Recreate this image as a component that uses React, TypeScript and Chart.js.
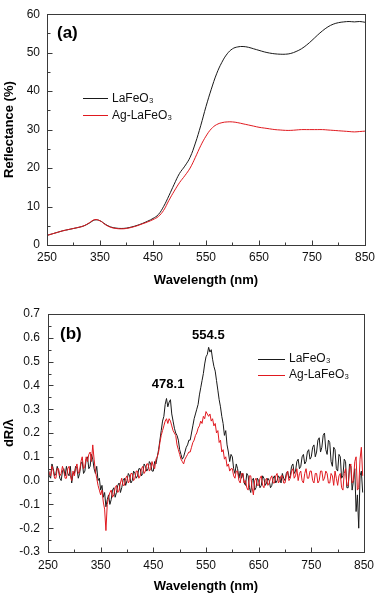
import React, { useEffect, useRef } from "react";
import { Chart, registerables } from "chart.js";

Chart.register(...registerables);

// ---------- data ----------
const seriesNames = ["LaFeO₃", "Ag-LaFeO₃"];

const wavelengthA = [
  250, 260, 270, 280, 290, 300, 310, 320, 330, 340, 350, 360, 370, 380, 390, 400, 410, 420, 430, 440,
  450, 460, 470, 480, 490, 500, 510, 520, 530, 540, 550, 560, 570, 580, 590, 600, 610, 620, 630, 640,
  650, 660, 670, 680, 690, 700, 710, 720, 730, 740, 750, 760, 770, 780, 790, 800, 810, 820, 830, 840, 850,
];
const reflLaFeO3 = [
  2.5, 2.9, 3.3, 3.7, 4.0, 4.3, 4.6, 5.0, 5.7, 6.5, 6.3, 5.4, 4.7, 4.4, 4.3, 4.4, 4.7, 5.1, 5.6, 6.2,
  6.9, 7.9, 10.0, 12.8, 15.8, 18.6, 20.5, 22.8, 26.5, 31.0, 36.0, 40.5, 44.5, 47.5, 49.7, 51.0, 51.5, 51.6, 51.4, 51.0,
  50.6, 50.2, 49.9, 49.7, 49.6, 49.6, 49.8, 50.3, 51.0, 52.0, 53.2, 54.5, 55.7, 56.7, 57.4, 57.8, 58.0, 58.1, 58.0, 58.1, 57.9,
];
const reflAgLaFeO3 = [
  2.5, 2.9, 3.3, 3.7, 4.0, 4.3, 4.6, 5.0, 5.8, 6.6, 6.3, 5.3, 4.6, 4.3, 4.2, 4.3, 4.6, 5.0, 5.5, 6.0,
  6.6, 7.4, 9.0, 11.6, 14.0, 16.2, 18.0, 20.0, 22.8, 25.8, 28.3, 30.2, 31.3, 31.8, 32.0, 32.0, 31.8, 31.5, 31.2, 30.9,
  30.6, 30.4, 30.2, 30.0, 29.9, 29.8, 29.8, 29.9, 30.0, 30.0, 30.0, 30.0, 30.0, 29.9, 29.8, 29.7, 29.6, 29.5, 29.4, 29.5, 29.6,
];

const wavelengthB = [
  250, 252.5, 255, 257.5, 260, 262.5, 265, 267.5, 270, 272.5, 275, 277.5, 280, 282.5, 285, 287.5, 290, 292.5, 295, 297.5,
  300, 302.5, 305, 307.5, 310, 312.5, 315, 317.5, 320, 322.5, 325, 327.5, 330, 332.5, 335, 337.5, 340, 342.5, 345, 347.5,
  350, 352.5, 355, 357.5, 360, 362.5, 365, 367.5, 370, 372.5, 375, 377.5, 380, 382.5, 385, 387.5, 390, 392.5, 395, 397.5,
  400, 402.5, 405, 407.5, 410, 412.5, 415, 417.5, 420, 422.5, 425, 427.5, 430, 432.5, 435, 437.5, 440, 442.5, 445, 447.5,
  450, 452.5, 455, 457.5, 460, 462.5, 465, 467.5, 470, 472.5, 475, 477.5, 480, 482.5, 485, 487.5, 490, 492.5, 495, 497.5,
  500, 502.5, 505, 507.5, 510, 512.5, 515, 517.5, 520, 522.5, 525, 527.5, 530, 532.5, 535, 537.5, 540, 542.5, 545, 547.5,
  550, 552.5, 555, 557.5, 560, 562.5, 565, 567.5, 570, 572.5, 575, 577.5, 580, 582.5, 585, 587.5, 590, 592.5, 595, 597.5,
  600, 602.5, 605, 607.5, 610, 612.5, 615, 617.5, 620, 622.5, 625, 627.5, 630, 632.5, 635, 637.5, 640, 642.5, 645, 647.5,
  650, 652.5, 655, 657.5, 660, 662.5, 665, 667.5, 670, 672.5, 675, 677.5, 680, 682.5, 685, 687.5, 690, 692.5, 695, 697.5,
  700, 702.5, 705, 707.5, 710, 712.5, 715, 717.5, 720, 722.5, 725, 727.5, 730, 732.5, 735, 737.5, 740, 742.5, 745, 747.5,
  750, 752.5, 755, 757.5, 760, 762.5, 765, 767.5, 770, 772.5, 775, 777.5, 780, 782.5, 785, 787.5, 790, 792.5, 795, 797.5,
  800, 802.5, 805, 807.5, 810, 812.5, 815, 817.5, 820, 822.5, 825, 827.5, 830, 832.5, 835, 837.5, 840, 842.5, 845, 847.5,
];
const dRLaFeO3 = [
  0.06, 0.02, 0.01, 0.07, 0.05, 0.02, 0.03, 0.06, 0.04, 0.01, 0.0, 0.04, 0.05, 0.02, 0.06, 0.03, 0.02, 0.06, -0.01, 0.03,
  0.03, 0.06, 0.05, 0.01, 0.03, 0.07, 0.08, 0.03, 0.04, 0.09, 0.1, 0.05, 0.06, 0.11, 0.09, 0.05, 0.03, 0.06, 0.0, 0.01,
  -0.04, -0.02, -0.07, -0.05, -0.11, -0.08, -0.06, -0.1, -0.08, -0.04, -0.03, -0.07, -0.05, -0.02, -0.01, -0.05, -0.03, 0.0, 0.01, -0.02,
  0.0, 0.03, 0.02, -0.01, 0.0, 0.04, 0.03, 0.01, 0.02, 0.05, 0.05, 0.02, 0.03, 0.07, 0.06, 0.04, 0.05, 0.08, 0.07, 0.04,
  0.04, 0.08, 0.07, 0.1, 0.13, 0.17, 0.21, 0.25, 0.27, 0.32, 0.345, 0.31, 0.33, 0.34, 0.28, 0.25, 0.22, 0.2, 0.19, 0.17,
  0.13, 0.11, 0.09, 0.1, 0.12, 0.14, 0.15, 0.17, 0.17, 0.2, 0.23, 0.26, 0.28, 0.3, 0.32, 0.36, 0.39, 0.42, 0.45, 0.49,
  0.52, 0.53, 0.56, 0.54, 0.55, 0.51, 0.48, 0.46, 0.42, 0.38, 0.34, 0.31, 0.27, 0.24, 0.19, 0.21, 0.15, 0.12, 0.08, 0.11,
  0.1, 0.05, 0.03, 0.07, 0.05, 0.01, 0.04, 0.01, 0.03, -0.01, -0.02, 0.03, 0.02, -0.03, -0.05, 0.0, 0.01, -0.04, -0.03, 0.01,
  0.0, -0.03, -0.02, 0.02, 0.01, -0.02, -0.01, 0.01, 0.0, -0.03, -0.02, 0.01, 0.02, -0.01, 0.0, 0.02, 0.01, -0.01, 0.03, 0.01,
  0.0, 0.03, 0.04, 0.01, 0.02, 0.06, 0.07, 0.03, 0.04, 0.08, 0.09, 0.05, 0.06, 0.1, 0.11, 0.07, 0.08, 0.12, 0.13, 0.09,
  0.1, 0.14, 0.15, 0.1, 0.12, 0.17, 0.18, 0.12, 0.14, 0.19, 0.2, 0.13, 0.11, 0.17, 0.16, 0.08, 0.06, 0.14, 0.13, 0.05,
  0.04, 0.11, 0.1, 0.01, 0.02, 0.09, 0.08, -0.03, -0.03, 0.07, 0.06, -0.04, 0.0, 0.05, -0.13, -0.06, -0.2, 0.02, 0.04, -0.05,
];
const dRAgLaFeO3 = [
  0.05, 0.03, 0.02, 0.06, 0.04, 0.01, 0.01, 0.05, 0.05, 0.02, 0.03, 0.06, 0.04, 0.01, 0.01, 0.05, 0.06, 0.02, 0.0, 0.04,
  0.02, 0.05, 0.07, 0.03, 0.04, 0.08, 0.1, 0.05, 0.06, 0.1, 0.08, 0.11, 0.12, 0.08, 0.15, 0.09, 0.04, 0.01, -0.02, -0.04,
  -0.06, -0.04, -0.09, -0.12, -0.21, -0.1, -0.07, -0.05, -0.04, -0.07, -0.06, -0.03, -0.02, -0.05, -0.04, -0.01, 0.01, -0.02, -0.02, 0.01,
  0.02, -0.01, 0.0, 0.03, 0.03, 0.0, 0.01, 0.04, 0.04, 0.01, 0.02, 0.05, 0.06, 0.03, 0.04, 0.07, 0.07, 0.04, 0.05, 0.08,
  0.06, 0.05, 0.09, 0.1, 0.12, 0.16, 0.19, 0.21, 0.23, 0.25, 0.26, 0.24, 0.26, 0.25, 0.23, 0.21, 0.2, 0.19, 0.15, 0.13,
  0.11, 0.09, 0.08, 0.07, 0.09, 0.1, 0.11, 0.12, 0.12, 0.14, 0.16, 0.17, 0.19, 0.2, 0.22, 0.23, 0.25, 0.24, 0.27, 0.26,
  0.29, 0.28, 0.27, 0.28, 0.25, 0.26, 0.23, 0.24, 0.2, 0.21, 0.16, 0.17, 0.12, 0.13, 0.09, 0.1, 0.06, 0.07, 0.04, 0.05,
  0.05, 0.02, 0.01, 0.04, 0.04, 0.0, -0.01, 0.03, 0.03, -0.01, 0.0, -0.03, -0.04, 0.02, 0.02, -0.03, -0.06, 0.0, 0.01, -0.02,
  -0.02, 0.01, 0.02, -0.02, -0.03, 0.0, 0.01, -0.02, -0.01, 0.01, 0.02, -0.01, -0.01, 0.02, 0.03, -0.01, 0.0, 0.02, 0.02, -0.01,
  -0.01, 0.02, 0.04, 0.0, 0.01, 0.04, 0.05, 0.01, 0.02, 0.05, 0.0, 0.03, 0.04, 0.0, -0.01, 0.03, 0.05, 0.01, 0.01, 0.04,
  0.04, 0.0, -0.01, 0.03, 0.03, -0.01, 0.0, 0.04, 0.04, 0.0, 0.01, 0.04, 0.03, -0.01, -0.01, 0.03, 0.02, -0.02, 0.04, 0.01,
  -0.02, 0.02, 0.03, -0.03, -0.04, 0.03, 0.05, -0.02, -0.02, 0.05, 0.07, -0.01, 0.0, 0.08, 0.1, -0.04, -0.03, 0.09, 0.14, 0.02,
];

const peakWavelengths = [478.1, 554.5];
const peakLabelLevels = [0.405, 0.61];

const FONT = "'Liberation Sans', Arial, Helvetica, sans-serif";
const BLACK = "#1a1a1a";
const RED = "#e0191f";

// ---------- plugins ----------
function line(ctx: CanvasRenderingContext2D, x1: number, y1: number, x2: number, y2: number) {
  ctx.beginPath();
  ctx.moveTo(x1, y1);
  ctx.lineTo(x2, y2);
  ctx.stroke();
}

const framePlugin = {
  id: "frameTicks",
  afterDatasetsDraw(chart: any) {
    const { ctx, chartArea } = chart;
    const { left, right, top, bottom } = chartArea;
    const xs = chart.scales.x;
    const ys = chart.scales.y;
    ctx.save();
    ctx.strokeStyle = "#3a3a3a";
    ctx.lineWidth = 1;
    ctx.strokeRect(Math.round(left) + 0.5, Math.round(top) + 0.5, Math.round(right - left), Math.round(bottom - top));
    const xv = xs.ticks.map((t: any) => t.value);
    const b = Math.round(bottom) + 0.5;
    for (let i = 0; i < xv.length; i++) {
      const px = Math.round(xs.getPixelForValue(xv[i])) + 0.5;
      line(ctx, px, b, px, b - 5);
      if (i < xv.length - 1) {
        const pm = Math.round(xs.getPixelForValue((xv[i] + xv[i + 1]) / 2)) + 0.5;
        line(ctx, pm, b, pm, b - 3);
      }
    }
    const yv = ys.ticks.map((t: any) => t.value);
    const l = Math.round(left) + 0.5;
    for (let i = 0; i < yv.length; i++) {
      const py = Math.round(ys.getPixelForValue(yv[i])) + 0.5;
      line(ctx, l, py, l + 5, py);
      if (i < yv.length - 1) {
        const pm = Math.round(ys.getPixelForValue((yv[i] + yv[i + 1]) / 2)) + 0.5;
        line(ctx, l, pm, l + 3, pm);
      }
    }
    ctx.restore();
  },
  afterDraw(chart: any) {
    const { ctx, chartArea } = chart;
    const o = chart.options.plugins.frameTicks || {};
    ctx.save();
    ctx.fillStyle = "#000";
    ctx.font = `bold 17px ${FONT}`;
    ctx.textBaseline = "middle";
    ctx.textAlign = "left";
    ctx.fillText(o.letter, chartArea.left + o.letterDx, chartArea.top + o.letterDy);
    ctx.font = `12px ${FONT}`;
    const colors = [BLACK, RED];
    seriesNames.forEach((name, i) => {
      const y = chartArea.top + o.legendDy + i * o.legendGap;
      ctx.strokeStyle = colors[i];
      ctx.lineWidth = 1;
      line(ctx, chartArea.left + o.legendDx, Math.round(y) + 0.5, chartArea.left + o.legendDx + o.legendLen, Math.round(y) + 0.5);
      ctx.fillStyle = "#111";
      ctx.fillText(name, chartArea.left + o.legendDx + o.legendLen + 4, y);
    });
    if (o.peaks) {
      ctx.font = `bold 13px ${FONT}`;
      ctx.textAlign = "center";
      ctx.fillStyle = "#000";
      peakWavelengths.forEach((w, i) => {
        ctx.fillText(w.toFixed(1), chart.scales.x.getPixelForValue(w), chart.scales.y.getPixelForValue(peakLabelLevels[i]));
      });
    }
    ctx.restore();
  },
};

// ---------- panel ----------
type PanelProps = {
  width: number;
  height: number;
  xVals: number[];
  series: number[][];
  yMin: number;
  yMax: number;
  yStep: number;
  yTitle: string;
  yFmt: (v: number) => string;
  padding: { left: number; right: number; top: number; bottom: number };
  yWidth: number;
  xHeight: number;
  yTickPad: number;
  xTickPad: number;
  tension: number;
  frame: any;
};

function Panel(p: PanelProps) {
  const ref = useRef<HTMLCanvasElement | null>(null);
  useEffect(() => {
    if (!ref.current) return;
    const colors = [BLACK, RED];
    const chart = new Chart(ref.current, {
      type: "line",
      data: {
        datasets: p.series.map((s, i) => ({
          label: seriesNames[i],
          data: p.xVals.map((x, j) => ({ x, y: s[j] })),
          borderColor: colors[i],
          borderWidth: 1,
          pointRadius: 0,
          tension: p.tension,
          fill: false,
          order: i === 0 ? 1 : 0,
        })),
      },
      options: {
        responsive: false,
        animation: false,
        layout: { padding: p.padding },
        plugins: {
          legend: { display: false },
          tooltip: { enabled: false },
          frameTicks: p.frame,
        } as any,
        scales: {
          x: {
            type: "linear",
            min: 250,
            max: 850,
            grid: { display: false, drawTicks: false },
            border: { display: false },
            ticks: {
              stepSize: 100,
              padding: p.xTickPad,
              color: "#111",
              font: { family: FONT, size: 12 },
              maxRotation: 0,
              callback: (v: any) => String(v),
            },
            title: {
              display: true,
              text: "Wavelength (nm)",
              color: "#000",
              font: { family: FONT, size: 13, weight: "bold" },
              padding: { top: 2, bottom: 2 },
            },
            afterFit: (s: any) => {
              s.height = p.xHeight;
            },
          },
          y: {
            type: "linear",
            min: p.yMin,
            max: p.yMax,
            grid: { display: false, drawTicks: false },
            border: { display: false },
            ticks: {
              stepSize: p.yStep,
              padding: p.yTickPad,
              color: "#111",
              font: { family: FONT, size: 12 },
              callback: (v: any) => p.yFmt(Number(v)),
            },
            title: {
              display: true,
              text: p.yTitle,
              color: "#000",
              font: { family: FONT, size: 13, weight: "bold" },
              padding: { top: 2, bottom: 2 },
            },
            afterFit: (s: any) => {
              s.width = p.yWidth;
            },
          },
        },
      },
      plugins: [framePlugin as any],
    });
    return () => chart.destroy();
  }, []);
  return <canvas ref={ref} width={p.width} height={p.height} style={{ display: "block", width: p.width, height: p.height }} />;
}

export default function App() {
  return (
    <div style={{ position: "absolute", left: 0, top: 0, width: 380, height: 596, background: "#fff" }}>
      <Panel
        width={380}
        height={290}
        xVals={wavelengthA}
        series={[reflLaFeO3, reflAgLaFeO3]}
        yMin={0}
        yMax={60}
        yStep={10}
        yTitle="Reflectance (%)"
        yFmt={(v) => String(Math.round(v))}
        padding={{ left: 0, right: 13, top: 7, bottom: 0 }}
        yWidth={47}
        xHeight={45}
        yTickPad={7}
        xTickPad={5}
        tension={0.4}
        frame={{ letter: "(a)", letterDx: 10, letterDy: 19, legendDx: 36, legendLen: 25, legendDy: 84, legendGap: 17, peaks: false }}
      />
      <Panel
        width={380}
        height={306}
        xVals={wavelengthB}
        series={[dRLaFeO3, dRAgLaFeO3]}
        yMin={-0.3}
        yMax={0.7}
        yStep={0.1}
        yTitle="dR/λ"
        yFmt={(v) => (Math.abs(v) < 1e-9 ? "0.0" : v.toFixed(1))}
        padding={{ left: 0, right: 11, top: 24, bottom: 0 }}
        yWidth={48}
        xHeight={44}
        yTickPad={8}
        xTickPad={6}
        tension={0}
        frame={{ letter: "(b)", letterDx: 12, letterDy: 20, legendDx: 210, legendLen: 27, legendDy: 45, legendGap: 16, peaks: true }}
      />
    </div>
  );
}
